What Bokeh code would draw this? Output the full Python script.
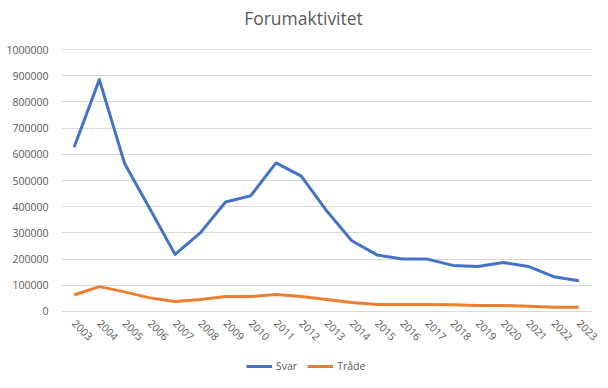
import math
from bokeh.plotting import figure
from bokeh.models import (Range1d, FixedTicker, BasicTickFormatter,
                          Legend, LegendItem, Label)
from bokeh.embed import file_html
from bokeh.resources import INLINE

years = list(range(2003, 2024))
svar = [627000, 885000, 565000, 392000, 218000, 300000, 418000, 442000, 567000, 517000,
        385000, 270000, 216000, 200000, 200000, 176000, 172000, 187000, 172000, 133000, 117000]
trade = [63000, 95000, 75000, 52000, 38000, 46000, 57000, 57000, 65000, 57000,
         46000, 34000, 27000, 27000, 27000, 26000, 23000, 23000, 20000, 16000, 16000]
yticks = [0, 100000, 200000, 300000, 400000, 500000, 600000, 700000, 800000, 900000, 1000000]

FONT = "Open Sans"
TXT = "#595959"

x_lo, x_hi = years[0] - 0.5, years[-1] + 0.5

# frame extends over title and legend area; the value axis 0..1000000 occupies the middle band
p = figure(width=600, height=384, x_range=Range1d(x_lo, 2023.857),
           y_range=Range1d(-271000, 1179400),
           output_backend="svg", toolbar_location=None,
           min_border_left=61, min_border_right=0, min_border_top=2, min_border_bottom=2)

p.outline_line_color = None
p.xgrid.grid_line_color = None
p.ygrid.grid_line_color = "#D9D9D9"
p.ygrid.grid_line_width = 1
p.ygrid.cross_bounds = (x_lo, x_hi)

p.yaxis.ticker = FixedTicker(ticks=yticks)
p.yaxis.formatter = BasicTickFormatter(use_scientific=False)
p.yaxis.axis_line_color = None
p.yaxis.major_tick_line_color = None
p.yaxis.minor_tick_line_color = None
p.yaxis.major_label_text_font = FONT
p.yaxis.major_label_text_font_size = "10.5px"
p.yaxis.major_label_text_color = TXT
p.yaxis.major_label_standoff = 7

p.xaxis.fixed_location = 0
p.xaxis.bounds = (x_lo, x_hi)
p.xaxis.ticker = FixedTicker(ticks=years)
p.xaxis.formatter = BasicTickFormatter(use_scientific=False)
p.xaxis.axis_line_color = "#D9D9D9"
p.xaxis.major_tick_line_color = None
p.xaxis.minor_tick_line_color = None
p.xaxis.major_label_orientation = -math.pi / 4
p.xaxis.major_label_text_font = FONT
p.xaxis.major_label_text_font_size = "10.5px"
p.xaxis.major_label_text_color = TXT
p.xaxis.major_label_standoff = 4

r1 = p.line(years, svar, line_color="#4472C4", line_width=3, line_join="round")
r2 = p.line(years, trade, line_color="#ED7D31", line_width=3, line_join="round")

title = Label(x=242, y=365, x_units="screen", y_units="screen", text="Forumaktivitet",
              text_align="center", text_baseline="middle", text_font=FONT,
              text_font_size="17.5px", text_color=TXT)
p.add_layout(title)

legend = Legend(items=[LegendItem(label="Svar", renderers=[r1]),
                       LegendItem(label="Tråde", renderers=[r2])],
                orientation="horizontal", location=(185, 9),
                glyph_width=26, glyph_height=14, label_standoff=4, spacing=10,
                padding=0, margin=0, border_line_color=None, background_fill_alpha=0,
                label_text_font=FONT, label_text_font_size="10.5px", label_text_color=TXT)
p.add_layout(legend, "center")

open("out.html", "w").write(file_html(p, INLINE))
